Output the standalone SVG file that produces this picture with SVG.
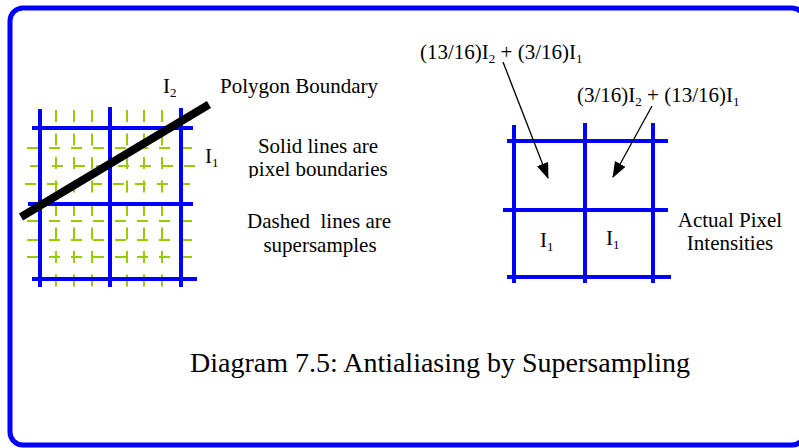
<svg xmlns="http://www.w3.org/2000/svg" width="799" height="448" viewBox="0 0 799 448">
<style>
text{font-family:"Liberation Serif","Times New Roman",serif;font-size:21px;fill:#000}
.blue{stroke:#0000ff;stroke-width:4;fill:none}
.sub{stroke:#99cc00;stroke-width:2;fill:none}
.sv{stroke-dasharray:12 11.5}
.sh{stroke-dasharray:11 11}
.s{font-size:13px}
.arrow{stroke:#000;stroke-width:1.3;fill:none;marker-end:url(#ah)}
</style>
<defs>
<marker id="ah" viewBox="0 0 16 12" refX="15" refY="6" markerWidth="16" markerHeight="12" markerUnits="userSpaceOnUse" orient="auto">
<path d="M0,0 L16,6 L0,12 Z" fill="#000"/>
</marker>
<clipPath id="clipTxt"><rect x="200" y="130" width="220" height="48"/></clipPath>
</defs>
<rect id="frame" x="10" y="8" width="795" height="437" rx="13" fill="#fff" stroke="#0000ff" stroke-width="5"/>

<g id="supersample-grid">
<g class="sub sv">
<line x1="56" y1="110" x2="56" y2="290"/>
<line x1="74" y1="110" x2="74" y2="290"/>
<line x1="92" y1="110" x2="92" y2="290"/>
<line x1="127" y1="110" x2="127" y2="290"/>
<line x1="144" y1="110" x2="144" y2="290"/>
<line x1="162" y1="110" x2="162" y2="290"/>
</g>
<g class="sub sh">
<line x1="27" y1="148" x2="197" y2="148"/>
<line x1="30" y1="166" x2="197" y2="166"/>
<line x1="25" y1="184" x2="197" y2="184"/>
<line x1="27" y1="221" x2="197" y2="221"/>
<line x1="27" y1="240" x2="197" y2="240"/>
<line x1="27" y1="257" x2="197" y2="257"/>
</g>
<g class="blue">
<line x1="40" y1="109" x2="40" y2="287"/>
<line x1="110" y1="107" x2="110" y2="287"/>
<line x1="181" y1="108" x2="181" y2="287"/>
<line x1="32" y1="128" x2="193" y2="128"/>
<line x1="28" y1="204" x2="193" y2="204"/>
<line x1="32" y1="279" x2="197" y2="279"/>
</g>
</g>

<g id="polygon-boundary">
<line x1="21" y1="217" x2="209" y2="104.5" stroke="#000" stroke-width="8"/>
</g>

<g id="left-labels">
<text x="163" y="93">I<tspan class="s" dy="4">2</tspan></text>
<text x="220" y="93">Polygon Boundary</text>
<text x="205" y="163">I<tspan class="s" dy="4">1</tspan></text>
<g clip-path="url(#clipTxt)">
<text x="318" y="153" text-anchor="middle">Solid lines are</text>
<text x="318" y="176" text-anchor="middle">pixel boundaries</text>
</g>
<text x="319" y="228" text-anchor="middle" xml:space="preserve">Dashed  lines are</text>
<text x="320" y="252" text-anchor="middle">supersamples</text>
</g>

<g id="pixel-grid">
<g class="blue">
<line x1="514" y1="125" x2="514" y2="283"/>
<line x1="585" y1="123" x2="585" y2="283"/>
<line x1="653" y1="123" x2="653" y2="283"/>
<line x1="507" y1="141" x2="668" y2="141"/>
<line x1="503" y1="210" x2="668" y2="210"/>
<line x1="507" y1="277" x2="671" y2="277"/>
</g>
<text x="540" y="247">I<tspan class="s" dy="4">1</tspan></text>
<text x="606" y="245">I<tspan class="s" dy="4">1</tspan></text>
</g>

<g id="right-labels">
<text x="420" y="59">(13/16)I<tspan class="s" dy="4">2</tspan><tspan dy="-4"> + (3/16)I</tspan><tspan class="s" dy="4">1</tspan></text>
<text x="577" y="102">(3/16)I<tspan class="s" dy="4">2</tspan><tspan dy="-4"> + (13/16)I</tspan><tspan class="s" dy="4">1</tspan></text>
<text x="730" y="227" text-anchor="middle">Actual Pixel</text>
<text x="730" y="250" text-anchor="middle">Intensities</text>
</g>

<g id="connectors">
<line class="arrow" x1="503" y1="62" x2="548" y2="178"/>
<line class="arrow" x1="652" y1="106" x2="613" y2="177"/>
</g>

<g id="caption">
<text x="440" y="372" text-anchor="middle" style="font-size:28px">Diagram 7.5: Antialiasing by Supersampling</text>
</g>
</svg>
